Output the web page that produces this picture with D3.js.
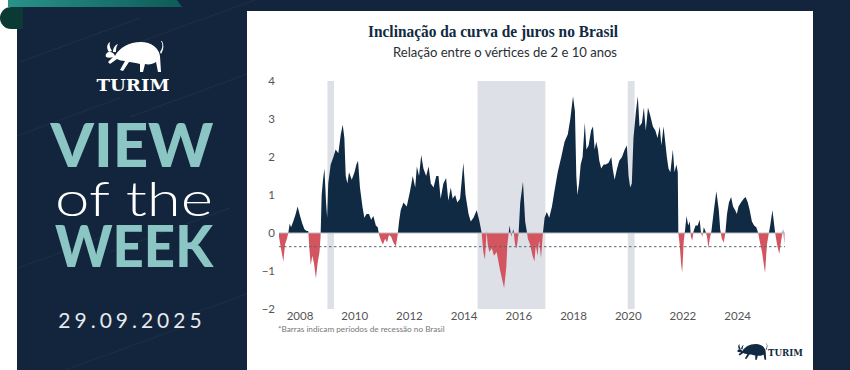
<!DOCTYPE html>
<html>
<head>
<meta charset="utf-8">
<script src="https://cdn.jsdelivr.net/npm/d3@7"></script>
<style>
  body { margin: 0; background: #fff; }
  svg { display: block; }
</style>
</head>
<body>
<svg id="chart" width="850" height="370"></svg>
<script>
// slope 10y - 2y (decimal year, p.p.)
var dates = [
  2007.25, 2007.32, 2007.41, 2007.47, 2007.54, 2007.59, 2007.64, 2007.69, 2007.77, 2007.86,
  2007.93, 2008.02, 2008.10, 2008.18, 2008.26, 2008.32, 2008.36, 2008.41, 2008.47, 2008.53,
  2008.60, 2008.66, 2008.73, 2008.77, 2008.81, 2008.86, 2008.91, 2008.97, 2009.01, 2009.05,
  2009.14, 2009.24, 2009.32, 2009.42, 2009.51, 2009.58, 2009.64, 2009.69, 2009.75, 2009.81,
  2009.91, 2010.01, 2010.08, 2010.14, 2010.21, 2010.30, 2010.37, 2010.45, 2010.54, 2010.62,
  2010.70, 2010.79, 2010.86, 2010.91, 2010.98, 2011.05, 2011.13, 2011.20, 2011.27, 2011.35,
  2011.43, 2011.52, 2011.58, 2011.64, 2011.70, 2011.80, 2011.92, 2012.04, 2012.14, 2012.23,
  2012.29, 2012.37, 2012.45, 2012.53, 2012.63, 2012.72, 2012.80, 2012.90, 2013.00, 2013.08,
  2013.16, 2013.26, 2013.36, 2013.44, 2013.53, 2013.60, 2013.69, 2013.77, 2013.87, 2013.99,
  2014.07, 2014.18, 2014.26, 2014.36, 2014.48, 2014.58, 2014.66, 2014.72, 2014.78, 2014.84,
  2014.88, 2014.94, 2015.03, 2015.11, 2015.21, 2015.31, 2015.40, 2015.48, 2015.56, 2015.60,
  2015.68, 2015.74, 2015.82, 2015.88, 2015.94, 2016.01, 2016.07, 2016.17, 2016.25, 2016.32,
  2016.35, 2016.43, 2016.52, 2016.59, 2016.64, 2016.70, 2016.76, 2016.83, 2016.90, 2016.96,
  2017.04, 2017.13, 2017.23, 2017.32, 2017.44, 2017.57, 2017.69, 2017.81, 2017.90, 2018.00,
  2018.07, 2018.12, 2018.16, 2018.22, 2018.28, 2018.35, 2018.43, 2018.49, 2018.57, 2018.66,
  2018.73, 2018.79, 2018.85, 2018.91, 2018.96, 2019.03, 2019.12, 2019.20, 2019.30, 2019.40,
  2019.45, 2019.52, 2019.61, 2019.69, 2019.79, 2019.89, 2019.97, 2020.03, 2020.09, 2020.15,
  2020.21, 2020.30, 2020.37, 2020.43, 2020.52, 2020.59, 2020.66, 2020.74, 2020.82, 2020.92,
  2021.01, 2021.09, 2021.17, 2021.23, 2021.31, 2021.37, 2021.43, 2021.49, 2021.56, 2021.65,
  2021.71, 2021.78, 2021.83, 2021.85, 2021.90, 2021.95, 2021.99, 2022.05, 2022.10, 2022.15,
  2022.21, 2022.27, 2022.31, 2022.36, 2022.41, 2022.48, 2022.56, 2022.63, 2022.68, 2022.73,
  2022.78, 2022.84, 2022.90, 2022.95, 2023.00, 2023.06, 2023.15, 2023.24, 2023.33, 2023.38,
  2023.44, 2023.51, 2023.57, 2023.63, 2023.70, 2023.78, 2023.85, 2023.93, 2023.99, 2024.05,
  2024.14, 2024.24, 2024.31, 2024.39, 2024.46, 2024.54, 2024.62, 2024.70, 2024.77, 2024.82,
  2024.91, 2024.97, 2025.02, 2025.09, 2025.16, 2025.21, 2025.29, 2025.34, 2025.39, 2025.46,
  2025.54, 2025.61, 2025.68, 2025.73
];
var spread = [
  -0.1, -0.4, -0.75, -0.3, -0.15, 0.0, 0.25, 0.15, 0.3, 0.5,
  0.7, 0.45, 0.25, 0.1, 0.05, 0.05, -0.4, -0.85, -0.6, -0.8,
  -1.2, -0.8, -0.5, -0.1, 1.0, 1.4, 1.7, 0.8, 0.4, 1.3,
  1.8, 2.0, 2.2, 2.1, 2.6, 2.85, 2.5, 1.5, 1.3, 1.6,
  1.4, 1.6, 1.8, 1.9, 1.2, 0.7, 0.4, 0.5, 0.5, 0.35,
  0.45, 0.2, 0.15, -0.05, -0.2, -0.3, -0.15, -0.25, -0.05, -0.1,
  -0.25, -0.35, -0.1, 0.3, 0.6, 0.8, 0.7, 1.1, 1.5, 1.2,
  1.75, 1.5, 2.05, 1.7, 1.5, 1.75, 1.3, 1.2, 1.5, 1.5,
  0.9, 1.3, 1.45, 0.85, 1.2, 0.9, 1.0, 0.8, 0.9, 1.85,
  1.0, 0.5, 0.3, 0.4, 0.6, 0.3, 0.0, -0.5, -0.7, 0.05,
  -0.3, -0.5, -0.4, -0.6, -0.5, -0.9, -1.2, -1.45, -0.9, -0.3,
  0.2, -0.1, 0.1, -0.3, -0.4, 0.0, 0.8, 1.35, 0.3, 0.0,
  -0.15, -0.3, -0.6, -0.75, -0.3, -0.6, -0.2, -0.65, 0.0, 0.4,
  0.55, 0.4, 0.7, 1.1, 1.6, 2.0, 2.4, 2.6, 3.0, 3.6,
  3.2, 1.5, 1.0, 1.3, 1.8, 2.0, 2.9, 2.2, 2.3, 2.7,
  2.8, 2.2, 2.4, 2.2, 1.9, 1.7, 1.8, 1.8, 1.85, 2.0,
  1.7, 1.4, 1.7, 1.9, 2.0, 2.2, 2.3, 1.5, 1.2, 1.3,
  2.5, 3.2, 3.6, 2.8, 2.9, 3.3, 2.7, 3.3, 3.1, 2.8,
  2.7, 2.5, 2.8, 2.3, 2.8, 2.4, 2.0, 1.7, 1.6, 2.2,
  1.6, 1.8, 1.6, 0.0, -0.3, -0.8, -1.05, -0.2, 0.1, 0.45,
  0.2, 0.3, -0.1, -0.2, 0.05, 0.2, 0.2, 0.35, 0.0, -0.1,
  0.15, 0.05, -0.1, -0.4, -0.15, 0.05, 0.6, 1.1, 0.6, 0.1,
  -0.15, -0.25, 0.0, 0.5, 0.8, 0.95, 0.7, 0.6, 0.5, 0.7,
  0.8, 0.9, 0.95, 0.8, 0.6, 0.3, 0.2, 0.15, 0.0, -0.2,
  -0.5, -0.8, -1.05, -0.3, 0.0, 0.2, 0.6, 0.3, 0.0, -0.3,
  -0.55, -0.2, 0.1, -0.3
];
// recessions in Brazil (grey bars)
var recStart = [2009.02, 2014.51, 2020.0];
var recEnd   = [2009.26, 2016.99, 2020.25];
var yTicks = [4, 3, 2, 1, 0, -1, -2];
var xTicks = [2008, 2010, 2012, 2014, 2016, 2018, 2020, 2022, 2024];
var avgLine = -0.36;

var navy = "#0f2a42", red = "#d25560", teal = "#8bc6c4", panel = "#12253c";

var svg = d3.select("#chart");
var data = dates.map(function(d, i) { return {t: d, v: spread[i]}; });
var recessions = recStart.map(function(d, i) { return {a: d, b: recEnd[i]}; });

// ---- frame / left panel ----
var defs = svg.append("defs");
var grad = defs.append("linearGradient").attr("id", "ribbon");
grad.append("stop").attr("offset", "0%").attr("stop-color", "#27938a");
grad.append("stop").attr("offset", "100%").attr("stop-color", "#0f5b57");

svg.append("rect").attr("width", 850).attr("height", 370).attr("fill", "#fff");
svg.append("rect").attr("x", 17).attr("y", 7).attr("width", 833).attr("height", 363).attr("fill", panel);
svg.append("rect").attr("x", 170).attr("y", 0).attr("width", 680).attr("height", 12).attr("fill", panel);
svg.append("path").attr("d", "M8,0 L177,0 L182,7 L8,7 Z").attr("fill", "url(#ribbon)");
svg.append("path").attr("d", "M23,7 L11,7 A11,11 0 0 0 11,29 L23,29 Z").attr("fill", "#0b3a35");

// faint diagonal strokes in the panel
var strokes = svg.append("g").attr("stroke", "#fff").attr("stroke-opacity", 0.05).attr("stroke-width", 1);
[[80, 40], [200, 20], [60, 120], [190, 95], [40, 260], [170, 230], [120, 350], [230, 300]].forEach(function(p) {
  strokes.append("line").attr("x1", p[0] - 60).attr("y1", p[1] + 22).attr("x2", p[0] + 60).attr("y2", p[1] - 22);
});

// bull mark
function bull(g, color) {
  g.append("path")
    .attr("d", "M12,16 C16,8 26,2 38,2 C48,2 56,8 57,16 L58,32 L55,32 L53,22 C50,24 46,25 42,24 L40,32 L37,32 L37,24 " +
               "C33,23 29,22 26,22 L20,31 L17,30 L22,21 C19,21 16,20 14,19 L7,24 L5,22 L10,17 C8,18 5,18 3,17 " +
               "C2,14 4,12 7,12 C9,12 11,13 12,16 Z " +
               "M6,12 C3,8 4,4 7,2 C6,5 7,8 9,11 Z M10,12 C10,8 12,5 15,4 C13,7 13,9 13,12 Z " +
               "M57,12 C60,8 60,4 58,1 L59,1 C61,5 61,9 58,14 Z")
    .attr("fill", color);
}
bull(svg.append("g").attr("transform", "translate(103,40)"), "#fff");

var left = svg.append("g").attr("text-anchor", "middle");
left.append("text").attr("x", 133).attr("y", 91).text("TURIM")
  .attr("font-family", "DejaVu Serif").attr("font-weight", "bold").attr("font-size", 17).attr("fill", "#fff")
  .attr("textLength", 73).attr("lengthAdjust", "spacingAndGlyphs");
left.append("text").attr("x", 132).attr("y", 167).text("VIEW")
  .attr("font-family", "Lato").attr("font-weight", 900).attr("font-size", 60).attr("fill", teal)
  .attr("textLength", 163).attr("lengthAdjust", "spacingAndGlyphs");
left.append("text").attr("x", 134).attr("y", 216).text("of the")
  .attr("font-family", "Lato").attr("font-weight", 300).attr("font-size", 48).attr("fill", "#fff")
  .attr("textLength", 158).attr("lengthAdjust", "spacingAndGlyphs");
left.append("text").attr("x", 134).attr("y", 267).text("WEEK")
  .attr("font-family", "Lato").attr("font-weight", 900).attr("font-size", 58).attr("fill", teal)
  .attr("textLength", 158).attr("lengthAdjust", "spacingAndGlyphs");
left.append("text").attr("x", 132).attr("y", 328).text("29.09.2025")
  .attr("font-family", "Lato").attr("font-weight", 400).attr("font-size", 21).attr("fill", "#e6e9ee")
  .attr("letter-spacing", 4);

// ---- chart card ----
svg.append("rect").attr("x", 247).attr("y", 11).attr("width", 566).attr("height", 359).attr("fill", "#fff");

svg.append("text").attr("x", 493).attr("y", 37).attr("text-anchor", "middle")
  .attr("font-family", "Liberation Serif").attr("font-weight", "bold").attr("font-size", 17).attr("fill", navy)
  .attr("textLength", 250).attr("lengthAdjust", "spacingAndGlyphs")
  .text("Inclinação da curva de juros no Brasil");
svg.append("text").attr("x", 505).attr("y", 57).attr("text-anchor", "middle")
  .attr("font-family", "Lato").attr("font-size", 12.5).attr("fill", "#2a2f36")
  .attr("textLength", 224).attr("lengthAdjust", "spacingAndGlyphs")
  .text("Relação entre o vértices de 2 e 10 anos");

var x = d3.scaleLinear().domain([2007.25, 2025.75]).range([279, 785]);
var y = d3.scaleLinear().domain([-2, 4]).range([309, 81]);

svg.append("g").selectAll("rect").data(recessions).join("rect")
  .attr("x", function(d) { return x(d.a); })
  .attr("width", function(d) { return x(d.b) - x(d.a); })
  .attr("y", y(4)).attr("height", y(-2) - y(4))
  .attr("fill", "#dde0e6");

defs.append("clipPath").attr("id", "pos").append("rect")
  .attr("x", 0).attr("y", 0).attr("width", 850).attr("height", y(0));
defs.append("clipPath").attr("id", "neg").append("rect")
  .attr("x", 0).attr("y", y(0)).attr("width", 850).attr("height", 370 - y(0));

var area = d3.area()
  .x(function(d) { return x(d.t); })
  .y0(y(0))
  .y1(function(d) { return y(d.v); });

svg.append("path").datum(data).attr("d", area).attr("fill", navy).attr("clip-path", "url(#pos)");
svg.append("path").datum(data).attr("d", area).attr("fill", red).attr("clip-path", "url(#neg)");

svg.append("line").attr("x1", x(2007.25)).attr("x2", x(2025.75)).attr("y1", y(0)).attr("y2", y(0))
  .attr("stroke", "#b9bcc2").attr("stroke-width", 1.2);
svg.append("line").attr("x1", x(2007.25)).attr("x2", x(2025.75)).attr("y1", y(avgLine)).attr("y2", y(avgLine))
  .attr("stroke", "#5b6470").attr("stroke-width", 1).attr("stroke-dasharray", "2.5,2.5");

// axes (text only)
var yAxis = svg.append("g").attr("transform", "translate(275,0)")
  .call(d3.axisLeft(y).tickValues(yTicks).tickSize(0).tickPadding(0).tickFormat(d3.format("d")));
yAxis.select(".domain").remove();
yAxis.selectAll("text").attr("font-family", "Lato").attr("font-size", 11.5).attr("fill", "#555");

var xAxis = svg.append("g").attr("transform", "translate(0,312)")
  .call(d3.axisBottom(x).tickValues(xTicks).tickSize(0).tickPadding(0).tickFormat(d3.format("d")));
xAxis.select(".domain").remove();
xAxis.selectAll("text").attr("font-family", "Lato").attr("font-size", 11.5).attr("fill", "#555");

svg.append("text").attr("x", 278).attr("y", 332)
  .attr("font-family", "Lato").attr("font-size", 8.2).attr("fill", "#777")
  .text("*Barras indicam períodos de recessão no Brasil");

// small logo bottom right
bull(svg.append("g").attr("transform", "translate(736,343) scale(0.52)"), navy);
svg.append("text").attr("x", 768).attr("y", 356)
  .attr("font-family", "DejaVu Serif").attr("font-weight", "bold").attr("font-size", 9).attr("fill", navy)
  .attr("textLength", 35).attr("lengthAdjust", "spacingAndGlyphs")
  .text("TURIM");
</script>
</body>
</html>
